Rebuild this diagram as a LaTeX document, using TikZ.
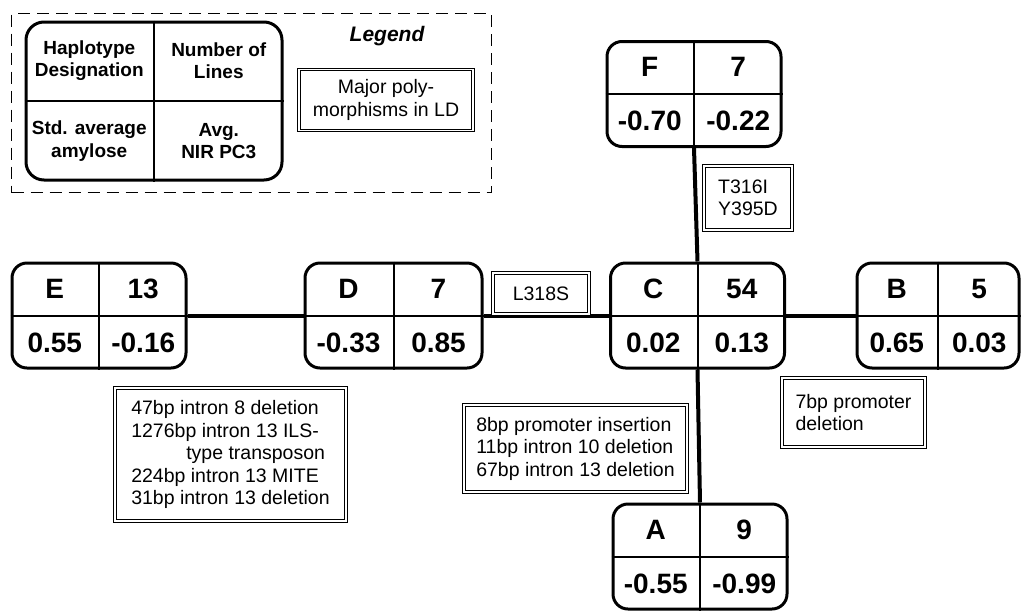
\documentclass[tikz,border=0pt]{standalone}
\usepackage{fontspec}
\setmainfont{Liberation Sans}
\usetikzlibrary{calc}
\newcommand\hapcells[5]{%
  \draw[divline] (#1.north) -- (#1.south);
  \draw[divline] (#1.west) -- (#1.east);
  \node[celltext] (#1-tl) at ($(#1.center)!.5!(#1.north west)$) {#2};
  \node[celltext] (#1-tr) at ($(#1.center)!.5!(#1.north east)$) {#3};
  \node[celltext] (#1-bl) at ($(#1.center)!.5!(#1.south west)$) {#4};
  \node[celltext] (#1-br) at ($(#1.center)!.5!(#1.south east)$) {#5};
}
\begin{document}
\begin{tikzpicture}[x=1pt,y=-1pt,
  hapbox/.style={draw, line width=3pt, rounded corners=15pt, inner sep=0pt,
    minimum width=174pt, minimum height=105pt},
  divline/.style={line width=2pt},
  celltext/.style={font=\bfseries\fontsize{28}{30}\selectfont, inner sep=0pt},
  legtext/.style={font=\bfseries\fontsize{19}{22.5}\selectfont, inner sep=0pt, align=center},
  lblbox/.style={draw, double, double distance=1.5pt, line width=1.2pt, inner sep=0pt,
    font=\fontsize{19.5}{22.5}\selectfont, align=left},
  conn/.style={line width=4pt},
  frame/.style={draw, line width=1.8pt, dash pattern=on 12pt off 7pt, inner sep=0pt}
]
\useasboundingbox (0,0) rectangle (1022,611);

% legend
\node[frame, minimum width=480pt, minimum height=179pt] (legframe) at (251.5,103) {};
\node[hapbox, rounded corners=18pt, minimum width=256pt, minimum height=158pt] (LG) at (154,101) {};
\draw[divline] (LG.north) -- (LG.south);
\draw[divline] (LG.west) -- (LG.east);
\node[legtext] (LG-tl) at ($(LG.center)!.5!(LG.north west)$) {Haplotype\\Designation};
\node[legtext] (LG-tr) at ($(LG.center)!.5!(LG.north east)$) {Number of\\Lines};
\node[legtext] (LG-bl) at ($(LG.center)!.5!(LG.south west)$) {Std. average\\amylose};
\node[legtext] (LG-br) at ($(LG.center)!.5!(LG.south east)$) {Avg.\\NIR PC3};
\node[font=\bfseries\itshape\fontsize{21}{24}\selectfont, inner sep=0pt] (legtitle) at (387,36) {Legend};
\node[lblbox, align=center, minimum width=174pt, minimum height=61pt] (leglbl) at (386,100) {Major poly-\\morphisms in LD};

% haplotype boxes
\node[hapbox] (E) at (99,315.5) {};
\node[hapbox, minimum width=177pt] (D) at (393.5,315.5) {};
\node[hapbox] (C) at (697.5,315.5) {};
\node[hapbox, minimum width=162pt] (B) at (938,315.5) {};
\node[hapbox] (F) at (694,94) {};
\node[hapbox] (A) at (700,556.5) {};
\hapcells{E}{E}{13}{0.55}{-0.16}
\hapcells{D}{D}{7}{-0.33}{0.85}
\hapcells{C}{C}{54}{0.02}{0.13}
\hapcells{B}{B}{5}{0.65}{0.03}
\hapcells{F}{F}{7}{-0.70}{-0.22}
\hapcells{A}{A}{9}{-0.55}{-0.99}

% connectors
\draw[conn] (E.east) -- (D.west);
\draw[conn] (D.east) -- (C.west);
\draw[conn] (C.east) -- (B.west);
\draw[conn] (F.south) -- (C.north);
\draw[conn] (C.south) -- (A.north);

% polymorphism labels
\node[lblbox, minimum width=88pt, minimum height=64pt] (lFC) at (748,198) {T316I\\Y395D};
\node[lblbox, align=center, minimum width=96pt, minimum height=41pt] (lDC) at (541,293.5) {L318S};
\node[lblbox, minimum width=143pt, minimum height=69pt] (lCB) at (853.5,412.5) {7bp promoter\\deletion};
\node[lblbox, minimum width=223pt, minimum height=87pt] (lCA) at (575.5,448.5) {8bp promoter insertion\\11bp intron 10 deletion\\67bp intron 13 deletion};
\node[lblbox, minimum width=231pt, minimum height=133pt] (lED) at (230.5,454.5) {47bp intron 8 deletion\\1276bp intron 13 ILS-\\\hspace*{55pt}type transposon\\224bp intron 13 MITE\\31bp intron 13 deletion};
\end{tikzpicture}
\end{document}
